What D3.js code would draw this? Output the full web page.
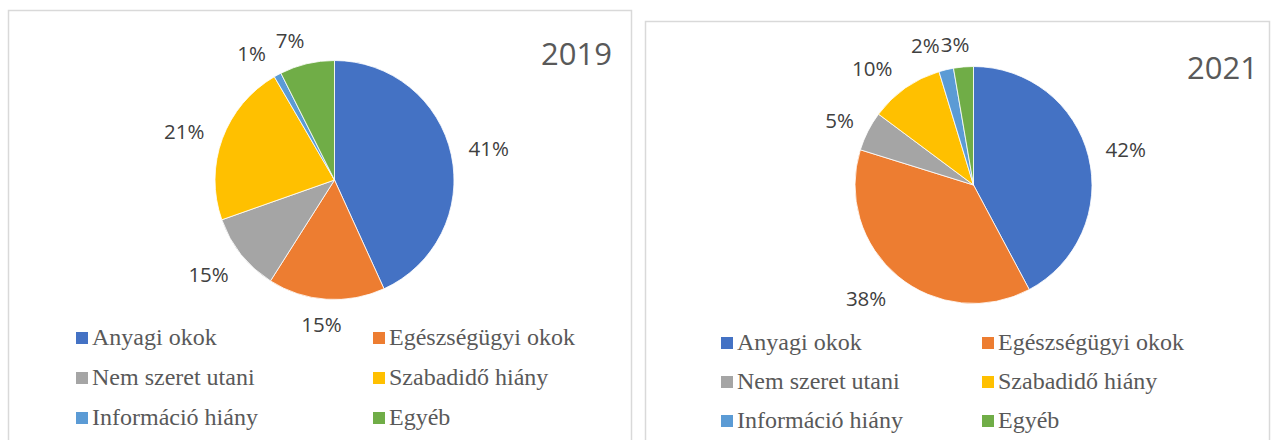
<!DOCTYPE html>
<html>
<head>
<meta charset="utf-8">
<script src="https://cdn.jsdelivr.net/npm/d3@7"></script>
<style>
  body { margin: 0; background: #fff; }
  svg { display: block; }
  .leg { font-family: "Liberation Serif", "Times New Roman", Tinos, "DejaVu Serif", serif; }
</style>
</head>
<body>
<svg id="graphique" width="1277" height="440"></svg>
<script>
// categories and values
var categories = ["Anyagi okok", "Egészségügyi okok", "Nem szeret utani", "Szabadidő hiány", "Információ hiány", "Egyéb"];
var colors = ["#4472C4", "#ED7D31", "#A5A5A5", "#FFC000", "#5B9BD5", "#70AD47"];

var values2019 = [43.2, 15.8, 10.6, 22.0, 1.0, 7.4];
var labels2019 = ["41%", "15%", "15%", "21%", "1%", "7%"];

var values2021 = [42.2, 37.6, 5.4, 10.1, 2.0, 2.7];
var labels2021 = ["42%", "38%", "5%", "10%", "2%", "3%"];

var years = ["2019", "2021"];

// layout of both panels
var panels = [
	{
		year: years[0], values: values2019, labels: labels2019,
		box: {x: 8.5, y: 10.5, w: 623, h: 440},
		cx: 334.5, cy: 180, r: 119.5,
		title: {x: 612, y: 65},
		legend: {x1: 76, x2: 373, y: 345, step: 40},
		nudge: [[0, 2], [-3, -1], [-3, -3], [-2, 6], [-10, 8], [-10, 5]]
	},
	{
		year: years[1], values: values2021, labels: labels2021,
		box: {x: 645.5, y: 21.5, w: 624, h: 430},
		cx: 973.5, cy: 185, r: 118.5,
		title: {x: 1258, y: 79},
		legend: {x1: 721, x2: 982, y: 350, step: 39},
		nudge: [[0, 3], [-9, -5], [6, 7], [-13, 9], [-14, 5], [-6, 4]]
	}
];

var graphique = d3.select("#graphique");

function drawPanel(p){
	var g = graphique.append("g");

	// cadre
	g.append("rect")
		.attr("x", p.box.x)
		.attr("y", p.box.y)
		.attr("width", p.box.w)
		.attr("height", p.box.h)
		.attr("fill", "#fff")
		.attr("stroke", "#D9D9D9")
		.attr("stroke-width", 1.5);

	var pie = d3.pie().sort(null).value(function(d){ return d; });
	var arcs = pie(p.values);

	var arc = d3.arc().innerRadius(0).outerRadius(p.r);

	var slices = g.append("g")
		.attr("transform", "translate(" + p.cx + "," + p.cy + ")");

	slices.selectAll("path")
		.data(arcs)
		.enter()
		.append("path")
		.attr("d", arc)
		.attr("fill", function(d, i){ return colors[i]; })
		.attr("stroke", "#fff")
		.attr("stroke-width", 0.8);

	// etiquettes "outside end"
	slices.selectAll("text")
		.data(arcs)
		.enter()
		.append("text")
		.attr("transform", function(d, i){
			var a = (d.startAngle + d.endAngle) / 2;
			var s = Math.sin(a), c = -Math.cos(a);
			var dist = p.r + 17 + 20 * Math.abs(s) + 8 * Math.abs(c);
			var x = s * dist + p.nudge[i][0];
			var y = c * dist + p.nudge[i][1];
			return "translate(" + x + "," + y + ")";
		})
		.attr("text-anchor", "middle")
		.attr("dy", "0.36em")
		.attr("font-family", "'Open Sans', sans-serif")
		.attr("font-size", 20.5)
		.attr("fill", "#404040")
		.text(function(d, i){ return p.labels[i]; });

	// titre
	g.append("text")
		.attr("x", p.title.x)
		.attr("y", p.title.y)
		.attr("text-anchor", "end")
		.attr("font-family", "'Open Sans', sans-serif")
		.attr("font-size", 31)
		.attr("fill", "#595959")
		.text(p.year);

	// legende
	var legende = g.append("g");
	categories.forEach(function(nom, i){
		var col = i % 2;
		var row = Math.floor(i / 2);
		var x = col == 0 ? p.legend.x1 : p.legend.x2;
		var y = p.legend.y + row * p.legend.step;

		legende.append("rect")
			.attr("x", x)
			.attr("y", y - 13)
			.attr("width", 12)
			.attr("height", 12)
			.attr("fill", colors[i]);

		legende.append("text")
			.attr("class", "leg")
			.attr("x", x + 16)
			.attr("y", y)
			.attr("font-size", 24)
			.attr("fill", "#595959")
			.text(nom);
	});
}

panels.forEach(drawPanel);
</script>
</body>
</html>
